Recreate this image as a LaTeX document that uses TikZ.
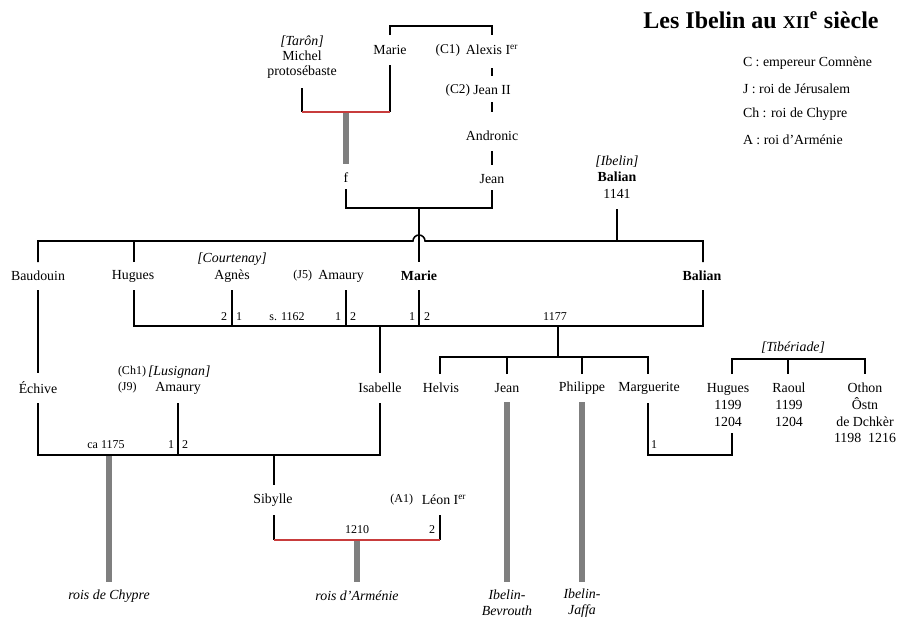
\documentclass[tikz,border=0pt]{standalone}
\usepackage{fontspec}
\setmainfont{Liberation Serif}
\usetikzlibrary{calc}
\definecolor{barg}{HTML}{7F7F7F}
\definecolor{redl}{HTML}{C83C3C}
\begin{document}
\begin{tikzpicture}[x=0.75pt,y=-0.75pt,
  every node/.style={inner sep=0pt, outer sep=0pt},
  nm/.style={font=\fontsize{10.4}{12.6}\selectfont, align=center},
  sm/.style={font=\fontsize{9}{11}\selectfont},
  md/.style={font=\fontsize{10}{12}\selectfont},
  ln/.style={line width=1.15pt, draw=black},
  bar/.style={line width=4.5pt, draw=barg},
  rd/.style={line width=1pt, draw=redl}]
\useasboundingbox (0,0) rectangle (899,618);

% ---------- title and legend
\node[font=\fontsize{18}{20}\selectfont\bfseries] (title) at (761,20)
  {Les Ibelin au {\fontsize{13.5}{14}\selectfont XII}\textsuperscript{e} siècle};
\node[nm, anchor=west] (lg1) at (743,63) {C : empereur Comnène};
\node[nm, anchor=west] (lg2) at (743,89) {J : roi de Jérusalem};
\node[nm, anchor=west] (lg3) at (743,114) {Ch : roi de Chypre};
\node[nm, anchor=west] (lg4) at (743,140) {A : roi d’Arménie};

% ---------- top generation
\node[nm, font=\fontsize{10.4}{11.25}\selectfont] (michel) at (302,57) {\textit{[Tarôn]}\\Michel\\protosébaste};
\node[nm] (marieA) at (390,50) {Marie};
\node[nm] (alexis) at (492,50) {Alexis I\textsuperscript{\fontsize{7}{7}\selectfont er}};
\node[md, anchor=east] (c1) at (460,50) {(C1)};
\node[nm] (jeanII) at (492,90) {Jean II};
\node[md, anchor=east] (c2) at (470,90) {(C2)};
\node[nm] (andronic) at (492,136) {Andronic};
\node[nm] (jeanA) at (492,179) {Jean};
\node[nm] (f) at (346,178) {f};
\node[nm, font=\fontsize{10.4}{12.4}\selectfont] (balianA) at (617,177) {\textit{[Ibelin]}\\\textbf{Balian}\\1141};

\draw[ln] ($(marieA)+(0,-15)$) -- ($(marieA)+(0,-24)$) -- (492,26) -- (492,35);
\draw[ln] (492,68) -- ($(jeanII)+(0,-14)$);
\draw[ln] ($(jeanII)+(0,12)$) -- ($(andronic)+(0,-24)$);
\draw[ln] ($(andronic)+(0,15)$) -- ($(jeanA)+(0,-14)$);
\draw[ln] ($(jeanA)+(0,11)$) |- ($(f)+(0,30)$) -- ($(f)+(0,11)$);
\draw[ln] ($(michel)+(0,31)$) -- ($(michel)+(0,55)$);
\draw[ln] ($(marieA)+(0,15)$) -- ($(marieA)+(0,62)$);
\draw[rd] ($(michel)+(0,55)$) -- ($(marieA)+(0,62)$);
\draw[bar] ($(f)+(0,-65)$) -- ($(f)+(0,-14)$);
\draw[ln] ($(balianA)+(0,32)$) -- ($(balianA)+(0,64)$);

% ---------- second generation
\node[nm] (baudouin) at (38,276) {Baudouin};
\node[nm] (huguesA) at (133,276) {Hugues};
\node[nm] (courtenay) at (232,259) {\textit{[Courtenay]}};
\node[nm] (agnes) at (232,276) {Agnès};
\node[sm, anchor=east] (j5) at (312,276) {(J5)};
\node[nm] (amauryA) at (341,276) {Amaury};
\node[nm] (marieB) at (419,276) {\textbf{Marie}};
\node[nm] (balianB) at (702,276) {\textbf{Balian}};

\coordinate (jn) at (419,208);
\draw[ln] (jn) -- ($(marieB)+(0,-14)$);
\draw[ln] ($(baudouin)+(0,-14)$) -- (38,241) -- (413,241)
   arc[start angle=180, end angle=0, radius=4.5pt] -- (703,241) -- ($(balianB)+(1,-14)$);
\draw[ln] ($(huguesA)+(1,-14)$) -- (134,241);

\draw[ln] ($(huguesA)+(1,14)$) -- (134,326) -- (703,326) -- ($(balianB)+(1,14)$);
\draw[ln] ($(agnes)+(0,14)$) -- (232,326);
\draw[ln] ($(amauryA)+(5,14)$) -- (346,326);
\draw[ln] ($(marieB)+(0,14)$) -- (419,326);
\node[sm] (n1) at (224,317) {2};
\node[sm] (n2) at (239,317) {1};
\node[sm] (n3) at (287,317) {s. 1162};
\node[sm] (n4) at (338,317) {1};
\node[sm] (n5) at (353,317) {2};
\node[sm] (n6) at (412,317) {1};
\node[sm] (n7) at (427,317) {2};
\node[sm] (n8) at (555,317) {1177};

% ---------- third generation
\node[nm] (echive) at (38,388) {Échive};
\node[sm, anchor=west] (ch1) at (118,372) {(Ch1)};
\node[nm, anchor=west] (lusignan) at (148,372) {\textit{[Lusignan]}};
\node[sm, anchor=west] (j9) at (118,388) {(J9)};
\node[nm] (amauryB) at (178,388) {Amaury};
\node[nm] (isabelle) at (380,388) {Isabelle};
\node[nm] (helvis) at (441,388) {Helvis};
\node[nm] (jeanB) at (507,388) {Jean};
\node[nm] (philippe) at (582,388) {Philippe};
\node[nm] (marguerite) at (649,388) {Marguerite};
\node[nm] (tiberiade) at (793,348) {\textit{[Tibériade]}};
\node[nm, font=\fontsize{10.4}{12.75}\selectfont] (huguesB) at (728,405) {Hugues\\1199\\1204};
\node[nm, font=\fontsize{10.4}{12.75}\selectfont] (raoul) at (789,405) {Raoul\\1199\\1204};
\node[nm, font=\fontsize{10.4}{12.6}\selectfont] (othon) at (865,413) {Othon\\Ôstn\\de Dchkèr\\1198~~1216};

\draw[ln] ($(baudouin)+(0,14)$) -- ($(echive)+(0,-15)$);
\draw[ln] (380,326) -- ($(isabelle)+(0,-15)$);
\draw[ln] (558,326) -- (558,357);
\draw[ln] ($(helvis)+(-1,-14)$) -- (440,357) -- (648,357) -- ($(marguerite)+(-1,-14)$);
\draw[ln] ($(jeanB)+(0,-14)$) -- (507,357);
\draw[ln] ($(philippe)+(0,-14)$) -- (582,357);
\draw[ln] (732,374) -- (732,359) -- (865,359) -- (865,374);
\draw[ln] (788,359) -- (788,374);

% marriages of third generation
\draw[ln] ($(echive)+(0,15)$) -- (38,455) -- (380,455) -- ($(isabelle)+(0,15)$);
\draw[ln] ($(amauryB)+(0,15)$) -- (178,455);
\node[sm] (n9) at (106,445) {ca 1175};
\node[sm] (n10) at (171,445) {1};
\node[sm] (n11) at (185,445) {2};
\draw[ln] ($(marguerite)+(-1,15)$) -- (648,455) -- (732,455) -- (732,433);
\node[sm] (n12) at (654,445) {1};

% ---------- fourth generation
\node[nm] (sibylle) at (273,500) {Sibylle};
\node[sm, anchor=east] (a1) at (413,500) {(A1)};
\node[nm] (leon) at (444,500) {Léon I\textsuperscript{\fontsize{7}{7}\selectfont er}};
\draw[ln] (274,455) -- ($(sibylle)+(1,-15)$);
\draw[ln] ($(sibylle)+(1,15)$) -- (274,540);
\draw[ln] (440,515) -- (440,540);
\draw[rd] (274,540) -- (440,540);
\node[sm] (n13) at (357,530) {1210};
\node[sm] (n14) at (432,530) {2};

% ---------- descendant lines
\node[nm] (chypre) at (109,596) {\textit{rois de Chypre}};
\node[nm] (armenie) at (357,596) {\textit{rois d’Arménie}};
\node[nm, font=\fontsize{10.4}{12.3}\selectfont] (beyrouth) at (507,603) {\textit{Ibelin-}\\\textit{Bevrouth}};
\node[nm, font=\fontsize{10.4}{12.3}\selectfont] (jaffa) at (582,603) {\textit{Ibelin-}\\\textit{Jaffa}};
\draw[bar] (109,456) -- ($(chypre)+(0,-14)$);
\draw[bar] (357,541) -- ($(armenie)+(0,-14)$);
\draw[bar] ($(jeanB)+(0,14)$) -- (507,582);
\draw[bar] ($(philippe)+(0,14)$) -- (582,582);
\end{tikzpicture}
\end{document}
